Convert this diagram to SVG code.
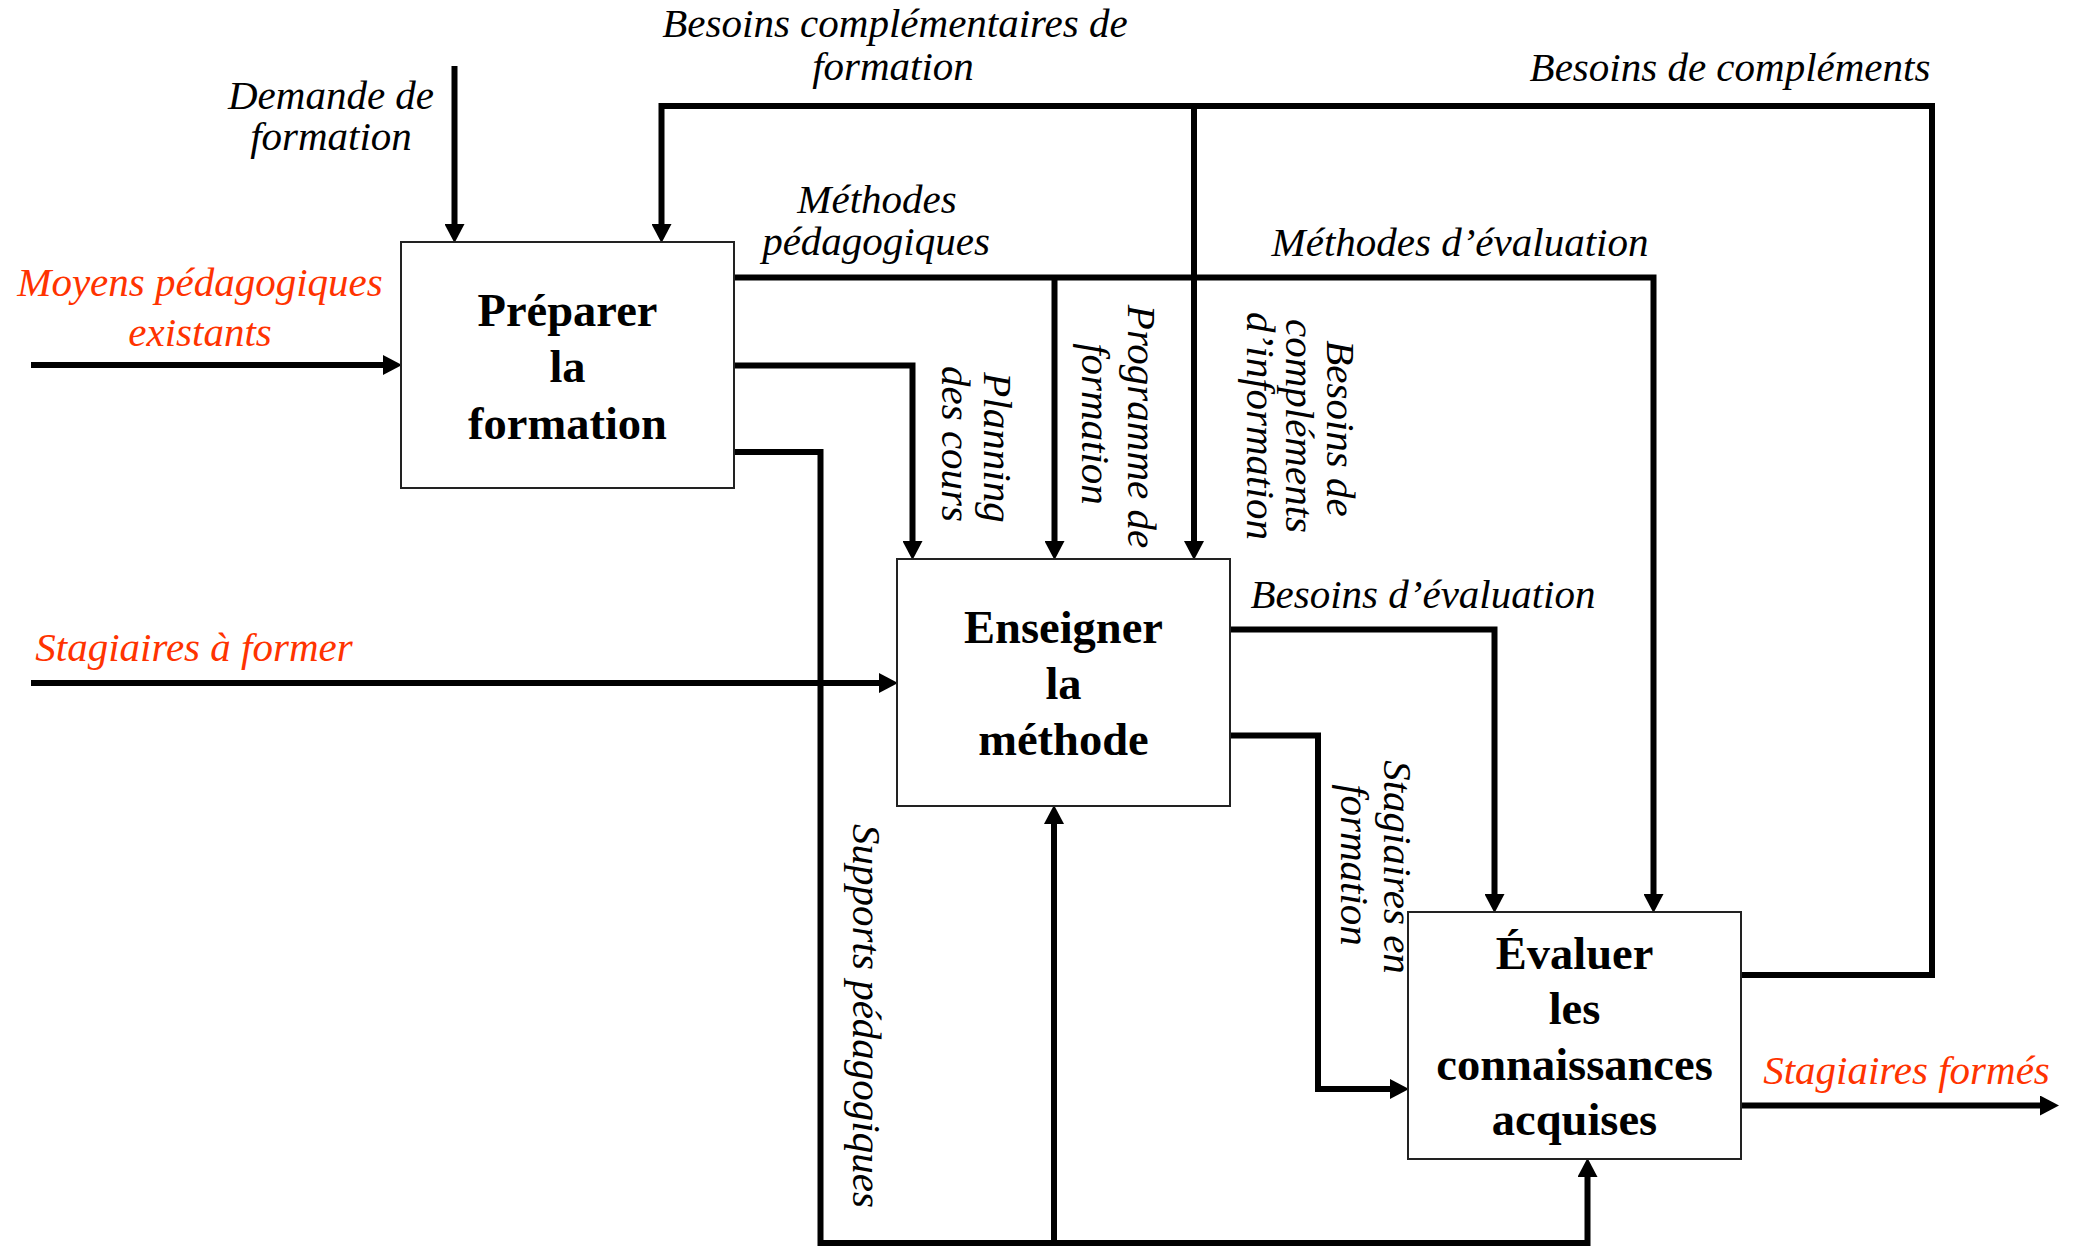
<svg xmlns="http://www.w3.org/2000/svg" width="2078" height="1246" viewBox="0 0 2078 1246">
<style>
.box{fill:#fff;stroke:#222;stroke-width:2}
.bt{font-family:"Liberation Serif","Times New Roman",serif;font-weight:bold;font-size:46.5px;fill:#000;text-anchor:middle}
.lb{font-family:"Liberation Serif","Times New Roman",serif;font-style:italic;font-size:41px;fill:#000;text-anchor:middle}
.red{fill:#ff3300}
.c{fill:none;stroke:#000;stroke-width:6;stroke-linejoin:miter;stroke-linecap:butt}
.a{marker-end:url(#ah)}
</style>
<defs>
<marker id="ah" markerUnits="userSpaceOnUse" markerWidth="20" markerHeight="20" viewBox="0 0 20 20" refX="9" refY="10" orient="auto">
<path d="M0,0 L19,10 L0,20 z" fill="#000"/>
</marker>
</defs>
<g id="connectors">
<path class="c a" d="M454.5,66 V233"/>
<path class="c a" d="M31,365 H392"/>
<path class="c a" d="M31,683 H888"/>
<path class="c a" d="M1741,975 H1932 V106 H661.5 V233"/>
<path class="c a" d="M1194,106 V550"/>
<path class="c a" d="M734,277.5 H1653.5 V903"/>
<path class="c a" d="M1054.5,277.5 V550"/>
<path class="c a" d="M734,365.5 H912.5 V550"/>
<path class="c a" d="M734,452 H820.5 V1243 H1587.5 V1168"/>
<path class="c a" d="M1054,1243 V815"/>
<path class="c a" d="M1230,629.5 H1494.5 V903"/>
<path class="c a" d="M1230,735.5 H1318 V1089 H1399"/>
<path class="c a" d="M1741,1105.5 H2049"/>
</g>
<g id="node-preparer">
<rect class="box" x="401" y="242" width="333" height="246"/>
<text class="bt" x="567.5" y="326">Préparer</text>
<text class="bt" x="567.5" y="382">la</text>
<text class="bt" x="567.5" y="439">formation</text>
</g>
<g id="node-enseigner">
<rect class="box" x="897" y="559" width="333" height="247"/>
<text class="bt" x="1063.5" y="643">Enseigner</text>
<text class="bt" x="1063.5" y="699">la</text>
<text class="bt" x="1063.5" y="755">méthode</text>
</g>
<g id="node-evaluer">
<rect class="box" x="1408" y="912" width="333" height="247"/>
<text class="bt" x="1574.5" y="968.5">Évaluer</text>
<text class="bt" x="1574.5" y="1023.5">les</text>
<text class="bt" x="1574.5" y="1079.5">connaissances</text>
<text class="bt" x="1574.5" y="1135">acquises</text>
</g>
<g id="labels">
<text class="lb" x="331" y="108.5">Demande de</text>
<text class="lb" x="331" y="150">formation</text>
<text class="lb red" x="200" y="295.5">Moyens pédagogiques</text>
<text class="lb red" x="200" y="346">existants</text>
<text class="lb red" x="194" y="661">Stagiaires à former</text>
<text class="lb" x="895" y="37">Besoins complémentaires de</text>
<text class="lb" x="893" y="79.5">formation</text>
<text class="lb" x="1730" y="80.5">Besoins de compléments</text>
<text class="lb" x="877" y="213">Méthodes</text>
<text class="lb" x="876" y="254.5">pédagogiques</text>
<text class="lb" x="1460" y="256">Méthodes d’évaluation</text>
<text class="lb" x="1423" y="608">Besoins d’évaluation</text>
<text class="lb red" x="1906.5" y="1084">Stagiaires formés</text>
<text class="lb" transform="translate(984,447.5) rotate(90)">Planning</text>
<text class="lb" transform="translate(942,444) rotate(90)">des cours</text>
<text class="lb" transform="translate(1128,426.5) rotate(90)">Programme de</text>
<text class="lb" transform="translate(1082,424) rotate(90)">formation</text>
<text class="lb" transform="translate(1327,428.5) rotate(90)">Besoins de</text>
<text class="lb" transform="translate(1286,426) rotate(90)">compléments</text>
<text class="lb" transform="translate(1247,426) rotate(90)">d’information</text>
<text class="lb" transform="translate(853,1016) rotate(90)">Supports pédagogiques</text>
<text class="lb" transform="translate(1384,867) rotate(90)">Stagiaires en</text>
<text class="lb" transform="translate(1341,865) rotate(90)">formation</text>
</g>
</svg>
